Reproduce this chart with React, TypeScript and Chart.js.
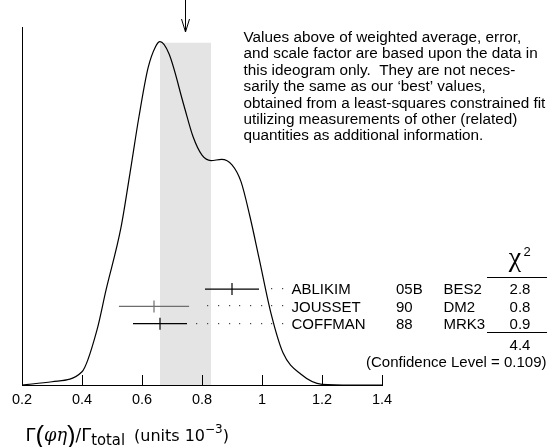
import React, { useEffect, useRef } from "react";
import { Chart, registerables } from "chart.js";

Chart.register(...registerables);

// ---------- data ----------
const xTickValues = [0.2, 0.4, 0.6, 0.8, 1.0, 1.2, 1.4];

// ideogram curve (x in units of 1e-3, relative height)
const curveX = [0.2, 0.3, 0.4, 0.45, 0.48, 0.53, 0.56, 0.59, 0.62, 0.645, 0.66, 0.69, 0.74, 0.77, 0.8, 0.83, 0.865, 0.9, 0.93, 0.96, 0.99, 1.03, 1.07, 1.13, 1.2, 1.3, 1.4];
const curveY = [0.0, 0.009, 0.037, 0.154, 0.265, 0.44, 0.592, 0.75, 0.885, 0.945, 0.959, 0.925, 0.78, 0.694, 0.642, 0.627, 0.63, 0.615, 0.568, 0.47, 0.355, 0.2, 0.09, 0.03, 0.002, 0.0, 0.0];

const experiments = ["ABLIKIM", "JOUSSET", "COFFMAN"];
const years = ["05B", "90", "88"];
const detectors = ["BES2", "DM2", "MRK3"];
const values = [0.9, 0.64, 0.66];
const errors = [0.09, 0.117, 0.09];
const chi2Values = ["2.8", "0.8", "0.9"];
const chi2Total = "4.4";
const confidenceText = "(Confidence Level = 0.109)";

const weightedAverage = 0.745;
const averageError = 0.085;
const bandHeight = 0.956;

const noteLines = [
  "Values above of weighted average, error,",
  "and scale factor are based upon the data in",
  "this ideogram only.  They are not neces-",
  "sarily the same as our \u2018best\u2019 values,",
  "obtained from a least-squares constrained fit",
  "utilizing measurements of other (related)",
  "quantities as additional information.",
];

const SANS = '"Liberation Sans", Arial, Helvetica, sans-serif';
const DJ = '"DejaVu Sans", sans-serif';

type Part = { t: string; f: string; dy: number };

export default function App() {
  const ref = useRef<HTMLCanvasElement>(null);

  useEffect(() => {
    const canvas = ref.current;
    if (!canvas) return;

    const rowLevel = (i: number) => 0.268 - i * 0.0484;
    const barColors = ["#000000", "#6e6e6e", "#000000"];

    const datasets: any[] = [];
    datasets.push({
      label: "curve",
      data: curveX.map((x, i) => ({ x, y: curveY[i] })),
      borderColor: "#000",
      borderWidth: 1.2,
      pointRadius: 0,
      cubicInterpolationMode: "monotone",
      fill: false,
      order: 1,
    });
    values.forEach((v, i) => {
      datasets.push({
        label: experiments[i] + " bar",
        data: [
          { x: v - errors[i], y: rowLevel(i) },
          { x: v + errors[i], y: rowLevel(i) },
        ],
        borderColor: barColors[i],
        borderWidth: 1.2,
        pointRadius: 0,
        tension: 0,
        fill: false,
        order: 2,
      });
      datasets.push({
        label: experiments[i] + " value",
        data: [{ x: v, y: rowLevel(i) }],
        showLine: false,
        pointStyle: "line",
        pointRotation: 90,
        pointRadius: 6,
        pointBorderColor: barColors[i],
        pointBorderWidth: 1.2,
        pointBackgroundColor: barColors[i],
        order: 2,
      });
    });
    datasets.push({
      label: "band",
      data: [
        { x: weightedAverage - averageError, y: bandHeight },
        { x: weightedAverage + averageError, y: bandHeight },
      ],
      borderWidth: 0,
      borderColor: "rgba(0,0,0,0)",
      backgroundColor: "#e4e4e4",
      pointRadius: 0,
      fill: "origin",
      tension: 0,
      order: 10,
    });

    const drawGroup = (ctx: CanvasRenderingContext2D, parts: Part[], x0: number, x1: number, base: number) => {
      let total = 0;
      const widths = parts.map((p) => {
        ctx.font = p.f;
        const w = ctx.measureText(p.t).width;
        total += w;
        return w;
      });
      ctx.save();
      ctx.translate(x0, base);
      ctx.scale((x1 - x0) / total, 1);
      let cx = 0;
      parts.forEach((p, i) => {
        ctx.font = p.f;
        ctx.fillText(p.t, cx, p.dy);
        cx += widths[i];
      });
      ctx.restore();
    };

    const ideogramPlugin = {
      id: "ideogramDecor",
      afterDraw(chart: any) {
        const ctx = chart.ctx as CanvasRenderingContext2D;
        const xs = chart.scales.x;
        const ys = chart.scales.y;
        const a = chart.chartArea;
        ctx.save();
        ctx.strokeStyle = "#000";
        ctx.fillStyle = "#000";
        ctx.lineWidth = 1;

        // left vertical axis
        ctx.beginPath();
        ctx.moveTo(Math.round(a.left) + 0.5, a.top);
        ctx.lineTo(Math.round(a.left) + 0.5, a.bottom);
        ctx.stroke();

        // inward tick marks
        ctx.beginPath();
        xTickValues.forEach((v) => {
          const px = Math.round(xs.getPixelForValue(v)) + 0.5;
          ctx.moveTo(px, a.bottom);
          ctx.lineTo(px, a.bottom - 10);
        });
        ctx.stroke();

        // arrow at weighted average
        const ax = Math.round(xs.getPixelForValue(weightedAverage)) + 0.5;
        const tip = a.top + 5;
        ctx.beginPath();
        ctx.moveTo(ax, 0);
        ctx.lineTo(ax, tip);
        ctx.moveTo(ax - 4, tip - 13);
        ctx.lineTo(ax, tip);
        ctx.lineTo(ax + 4, tip - 13);
        ctx.stroke();

        // dotted leaders, labels and chi2
        ctx.font = `15px ${SANS}`;
        ctx.textBaseline = "middle";
        const labelX = 291.5;
        values.forEach((v, i) => {
          const y = ys.getPixelForValue(rowLevel(i));
          const hi = xs.getPixelForValue(v + errors[i]);
          ctx.fillStyle = "#444";
          for (let dx = labelX - 9.5; dx > hi + 8; dx -= 10.7) {
            ctx.fillRect(Math.round(dx), Math.round(y) - 1, 1.2, 1.2);
          }
          ctx.fillStyle = "#000";
          ctx.textAlign = "left";
          ctx.fillText(experiments[i], labelX, y + 1);
          ctx.fillText(years[i], 396, y + 1);
          ctx.fillText(detectors[i], 443.5, y + 1);
          ctx.textAlign = "center";
          ctx.fillText(chi2Values[i], 520, y + 1);
        });
        // chi2 header
        ctx.textAlign = "center";
        ctx.textBaseline = "alphabetic";
        ctx.font = `28px "Liberation Serif", serif`;
        ctx.fillText("\u03c7", 515, 266);
        ctx.font = `13px ${SANS}`;
        ctx.fillText("2", 527, 256);
        ctx.beginPath();
        ctx.moveTo(487, 277.5);
        ctx.lineTo(547, 277.5);
        ctx.moveTo(487, 332.5);
        ctx.lineTo(547, 332.5);
        ctx.stroke();
        ctx.font = `15px ${SANS}`;
        ctx.textBaseline = "middle";
        ctx.fillText(chi2Total, 520, 346);
        ctx.textAlign = "right";
        ctx.fillText(confidenceText, 546.5, 362.5);

        // note text
        ctx.textAlign = "left";
        ctx.textBaseline = "alphabetic";
        ctx.font = `15.3px ${SANS}`;
        noteLines.forEach((t, i) => ctx.fillText(t, 243.5, 42 + i * 16.4));

        // x-axis title
        drawGroup(
          ctx,
          [
            { t: "\u0393", f: `18px ${DJ}`, dy: 0 },
            { t: "(", f: `26px ${SANS}`, dy: 3 },
            { t: "\u03c6\u03b7", f: `italic 18px "DejaVu Serif", serif`, dy: 0 },
            { t: ")", f: `26px ${SANS}`, dy: 3 },
            { t: "/", f: `17px ${DJ}`, dy: 0 },
            { t: "\u0393", f: `18px ${DJ}`, dy: 0 },
            { t: "total", f: `15px ${DJ}`, dy: 4 },
          ],
          25.5,
          125,
          440.5
        );
        drawGroup(
          ctx,
          [
            { t: "(units 10", f: `16px ${DJ}`, dy: 0 },
            { t: "\u22123", f: `12px ${DJ}`, dy: -8 },
            { t: ")", f: `16px ${DJ}`, dy: 0 },
          ],
          134,
          229,
          440.5
        );
        ctx.restore();
      },
    };

    const chart = new Chart(canvas, {
      type: "line",
      data: { datasets },
      options: {
        animation: false,
        responsive: false,
        devicePixelRatio: 1,
        layout: { padding: { left: 22, right: 165, top: 27, bottom: 0 } },
        plugins: { legend: { display: false }, tooltip: { enabled: false } },
        scales: {
          x: {
            type: "linear",
            min: 0.2,
            max: 1.4,
            afterBuildTicks: (s: any) => {
              s.ticks = xTickValues.map((v) => ({ value: v }));
            },
            afterFit: (s: any) => {
              s.height = 62;
            },
            grid: { display: false, drawTicks: false },
            border: { display: true, color: "#000", width: 1 },
            ticks: {
              color: "#000",
              font: { family: SANS, size: 14.5 },
              padding: 6,
              maxRotation: 0,
              autoSkip: false,
              callback: (v: any) => String(Math.round(Number(v) * 10) / 10),
            },
          },
          y: { type: "linear", min: 0, max: 1, display: false },
        },
      } as any,
      plugins: [ideogramPlugin],
    });
    return () => chart.destroy();
  }, []);

  return (
    <div style={{ position: "fixed", left: 0, top: 0, width: 547, height: 447, background: "#fff" }}>
      <canvas ref={ref} width={547} height={447} style={{ display: "block" }} />
    </div>
  );
}
